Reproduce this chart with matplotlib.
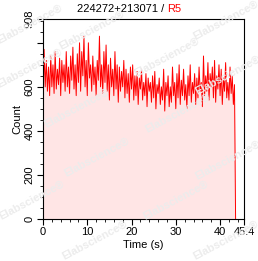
import numpy as np
import matplotlib
matplotlib.use("Agg")
import matplotlib.pyplot as plt
from matplotlib.ticker import MultipleLocator

title_main = "224272+213071 / "
title_red = "R5"
x_label = "Time (s)"
y_label = "Count"
x_ticks = [0, 10, 20, 30, 40, 45.4]
x_tick_labels = ["0", "10", "20", "30", "40", "45.4"]
y_ticks = [0, 200, 400, 600, 800, 908]
y_tick_labels = ["0", "200", "400", "600", "", "908"]
x_max = 45.4
y_max = 908
dt = 0.25
end_time = 43.5

counts = [
    510, 770, 600, 720, 580, 690, 560, 740, 600, 700, 570, 760,
    590, 680, 610, 730, 560, 720, 620, 700, 580, 760, 600, 690,
    570, 740, 630, 780, 590, 700, 560, 750, 620, 800, 580, 760,
    650, 830, 600, 720, 560, 800, 640, 700, 580, 740, 610, 690,
    560, 720, 630, 830, 600, 700, 570, 760, 620, 790, 580, 700,
    540, 730, 600, 680, 560, 760, 590, 700, 530, 690, 580, 670,
    600, 720, 550, 680, 570, 660, 530, 690, 590, 700, 540, 650,
    560, 670, 520, 640, 590, 680, 540, 620, 560, 660, 510, 640,
    580, 620, 530, 650, 550, 670, 500, 610, 570, 640, 520, 600,
    540, 680, 490, 620, 560, 650, 510, 600, 530, 690, 560, 620,
    500, 660, 550, 700, 520, 630, 560, 680, 540, 610, 500, 650,
    560, 700, 530, 620, 570, 660, 520, 640, 550, 690, 580, 620,
    510, 740, 560, 650, 580, 710, 540, 660, 600, 690, 550, 720,
    530, 650, 590, 700, 560, 680, 520, 640, 580, 710, 550, 620,
    540, 690, 570, 650, 520, 610,
]

times = [i * dt for i in range(len(counts))]
t_all = times + [end_time]
c_all = counts + [0]

watermarks = [(30, 24), (92, 30), (167, 57), (226, 20), (30, 68), (77, 108),
              (178, 113), (228, 75), (97, 157), (228, 160),
              (32, 200), (176, 200), (95, 240), (226, 240)]

W, H = 258, 261
fig = plt.figure(figsize=(W / 100, H / 100), dpi=100)
plt.rcParams['font.family'] = ['Liberation Sans', 'DejaVu Sans']

for (wx, wy) in watermarks:
    fig.text(wx / W, 1 - wy / H, "Elabscience\u00ae", rotation=28, fontsize=8,
             fontweight='bold', color='#ececec', ha='center', va='center', zorder=0)

ax = fig.add_axes([43 / W, 1 - 219 / H, (244 - 43) / W, (219 - 19) / H])
ax.patch.set_alpha(0)
ax.fill_between(t_all, c_all, 0, color='#ff0000', alpha=0.1, linewidth=0)
ax.plot(t_all, c_all, color='#ff0000', linewidth=0.7)
ax.set_xlim(0, x_max)
ax.set_ylim(0, y_max)
ax.set_xticks(x_ticks)
ax.set_xticklabels(x_tick_labels)
ax.set_yticks(y_ticks)
ax.set_yticklabels(y_tick_labels, rotation=90, va='center')
ax.xaxis.set_minor_locator(MultipleLocator(2))
ax.yaxis.set_minor_locator(MultipleLocator(50))
ax.tick_params(which='major', length=4, width=0.8, labelsize=8, pad=2)
ax.tick_params(which='minor', length=2, width=0.6)
for s in ax.spines.values():
    s.set_linewidth(0.8)
ax.set_xlabel(x_label, fontsize=8, labelpad=2)
ax.set_ylabel(y_label, fontsize=8, labelpad=2)

t1 = fig.text(0.5, 1 - 9 / H, title_main, fontsize=8, ha='center', va='center')
fig.canvas.draw()
r = fig.canvas.get_renderer()
bb = t1.get_window_extent(r)
red_w = fig.text(0, 0, title_red, fontsize=8).get_window_extent(r).width
fig.texts[-1].remove()
total = bb.width + red_w
x0 = (W - total) / 2
t1.set_ha('left')
t1.set_x(x0 / W)
fig.text((x0 + bb.width) / W, 1 - 9 / H, title_red, fontsize=8, color='#ff0000',
         ha='left', va='center')

fig.savefig("out.png", dpi=100)
